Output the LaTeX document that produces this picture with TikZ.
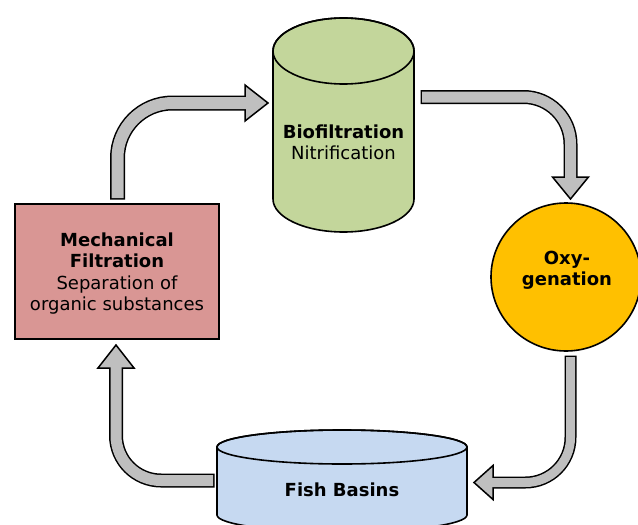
\documentclass[tikz,border=0pt]{standalone}
\usepackage{fontspec}
\setmainfont{DejaVu Sans}
\usetikzlibrary{shapes.geometric}
\definecolor{arrowgray}{HTML}{BFBFBF}
\definecolor{biogreen}{HTML}{C3D69B}
\definecolor{mechred}{HTML}{D99694}
\definecolor{oxyyellow}{HTML}{FFC000}
\definecolor{fishblue}{HTML}{C6D9F1}
\tikzset{
  shapeline/.style={draw=black, line width=1.6pt},
  lbl/.style={align=center, font=\fontsize{18}{21.4}\selectfont, inner sep=0pt},
  headtip/.style={fill=arrowgray, draw=black, line width=1.5pt, line join=miter},
  shaftblack/.style={draw=black, line width=#1, line cap=butt},
  shaftgray/.style={draw=arrowgray, line width=#1, line cap=butt},
}
\begin{document}
\begin{tikzpicture}[x=1pt,y=1pt]
\useasboundingbox (0,0) rectangle (638,-525);
\clip (0,0) rectangle (638,-525);

% Biofiltration cylinder
\path[shapeline, fill=biogreen] (273,-51) -- (273,-199)
  arc[start angle=180, end angle=360, x radius=70.5, y radius=33]
  -- (414,-51)
  arc[start angle=0, end angle=180, x radius=70.5, y radius=33] -- cycle;
\draw[shapeline] (343.5,-51) ellipse[x radius=70.5, y radius=33];
\node[lbl] (bio) at (343.5,-142) {\textbf{Biofiltration}\\Nitrification};

% Mechanical filtration
\node[shapeline, fill=mechred, rectangle, minimum width=204pt, minimum height=135pt,
  inner sep=0pt] (mech) at (117,-271.5) {};
\node[lbl] (mechtext) at (117,-273.5) {\textbf{Mechanical}\\\textbf{Filtration}\\Separation of\\organic substances};

% Oxygenation
\node[shapeline, fill=oxyyellow, ellipse, minimum width=150pt, minimum height=148pt,
  inner sep=0pt] (oxy) at (566,-277) {};
\node[lbl] (oxytext) at (567,-270) {\textbf{Oxy-}\\\textbf{genation}};

% Fish basins cylinder
\path[shapeline, fill=fishblue] (217,-447) -- (217,-515)
  arc[start angle=180, end angle=360, x radius=125, y radius=17]
  -- (467,-447)
  arc[start angle=0, end angle=180, x radius=125, y radius=17] -- cycle;
\draw[shapeline] (342,-447) ellipse[x radius=125, y radius=17];
\node[lbl] (fish) at (342,-490) {\textbf{Fish Basins}};

% Arrow 1: mechanical -> biofiltration
\coordinate (a1s) at (117.5,-198);
\coordinate (a1c) at (117.5,-103);
\coordinate (a1b) at (245,-103);
\draw[shaftblack=15pt, rounded corners=55pt] (117.5,-199.5) -- (a1c) -- (a1b);
\draw[headtip] (245,-85) -- (268,-103) -- (245,-121) -- cycle;
\draw[shaftgray=12pt, rounded corners=55pt] (a1s) -- (a1c) -- (247,-103);

% Arrow 2: biofiltration -> oxygenation
\coordinate (a2s) at (422,-97);
\coordinate (a2c) at (570.5,-97);
\coordinate (a2b) at (570.5,-177);
\draw[shaftblack=14pt, rounded corners=47pt] (420.5,-97) -- (a2c) -- (a2b);
\draw[headtip] (552.5,-177) -- (570.5,-199) -- (588.5,-177) -- cycle;
\draw[shaftgray=11pt, rounded corners=47pt] (a2s) -- (a2c) -- (570.5,-179);

% Arrow 3: oxygenation -> fish basins
\coordinate (a3s) at (570.5,-357);
\coordinate (a3c) at (570.5,-482.5);
\coordinate (a3b) at (493,-482.5);
\draw[shaftblack=12pt, rounded corners=45pt] (570.5,-355.5) -- (a3c) -- (a3b);
\draw[headtip] (493,-465.5) -- (474,-482.5) -- (493,-499.5) -- cycle;
\draw[shaftgray=9pt, rounded corners=45pt] (a3s) -- (a3c) -- (491,-482.5);

% Arrow 4: fish basins -> mechanical
\coordinate (a4s) at (213,-480.5);
\coordinate (a4c) at (116,-480.5);
\coordinate (a4b) at (116,-368);
\draw[shaftblack=14pt, rounded corners=45pt] (214.5,-480.5) -- (a4c) -- (a4b);
\draw[headtip] (98,-368) -- (116,-345) -- (134,-368) -- cycle;
\draw[shaftgray=11pt, rounded corners=45pt] (a4s) -- (a4c) -- (116,-366);
\end{tikzpicture}
\end{document}
